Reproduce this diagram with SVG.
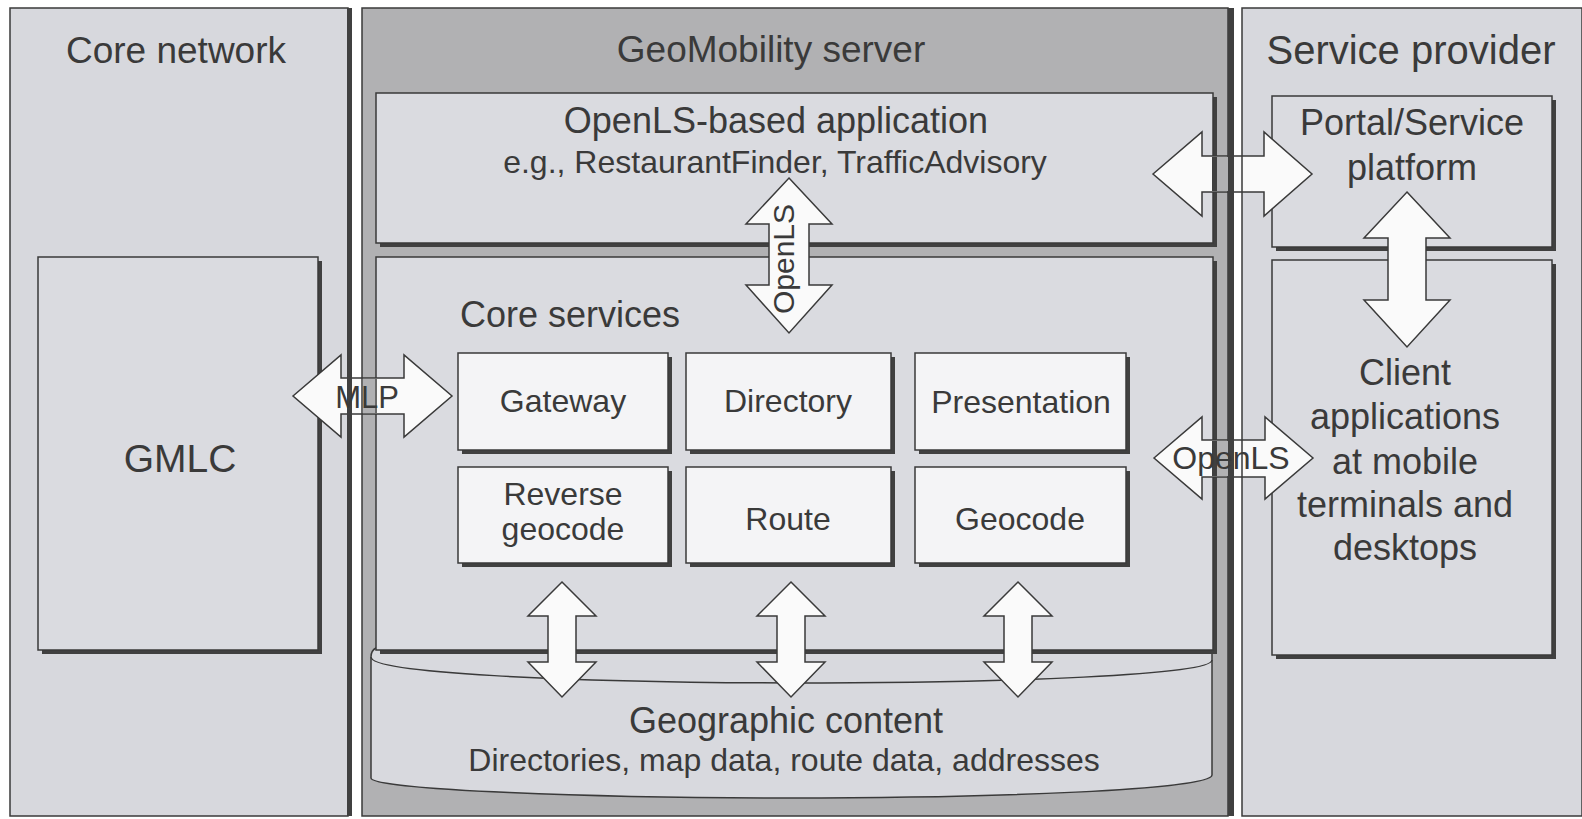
<svg xmlns="http://www.w3.org/2000/svg" width="1582" height="819" viewBox="0 0 1582 819">
<style>
.t{font-family:"Liberation Sans",Arial,sans-serif;fill:#3a3a3a}
.panel{fill:#d7d8dd}
.geo{fill:#b1b1b3}
.box{fill:#dadbe0;stroke:#3a3a3a;stroke-width:1.5}
.svc{fill:#f4f4f6;stroke:#3a3a3a;stroke-width:1.5}
.sh{fill:#404040}
.arr{fill:#fafafa;stroke:#3a3a3a;stroke-width:1.5;stroke-linejoin:miter}
.edge{fill:none;stroke:#3a3a3a;stroke-width:1.5}
.ln{stroke:#3a3a3a;stroke-width:1.5}
</style>
<rect x="0" y="0" width="1582" height="819" fill="#ffffff"/>

<g id="core-network">
  <rect class="panel" x="10" y="8" width="338" height="808"/>
  <text class="t" x="176" y="63" font-size="37" text-anchor="middle">Core network</text>
</g>
<g id="geomobility-server">
  <rect class="geo" x="362" y="8" width="866" height="808"/>
  <text class="t" x="771" y="62" font-size="37" text-anchor="middle">GeoMobility server</text>
</g>
<g id="service-provider">
  <rect class="panel" x="1242" y="8" width="340" height="808"/>
  <text class="t" x="1411" y="64" font-size="40" text-anchor="middle">Service provider</text>
</g>

<g id="gmlc">
  <rect class="sh" x="42" y="261" width="280" height="393"/>
  <rect class="box" x="38" y="257" width="280" height="393"/>
  <text class="t" x="180" y="472" font-size="39" text-anchor="middle">GMLC</text>
</g>

<g id="openls-application">
  <rect class="sh" x="380" y="97" width="837" height="150"/>
  <rect class="box" x="376" y="93" width="837" height="150"/>
  <text class="t" x="776" y="133" font-size="36" text-anchor="middle">OpenLS-based application</text>
  <text class="t" x="775" y="173" font-size="32" text-anchor="middle">e.g., RestaurantFinder, TrafficAdvisory</text>
</g>

<g id="geographic-content">
  <path d="M376,648 C372,650 371,653 371,657 L371,778 C371,790 600,798 790,798 C990,798 1212,790 1212,775 L1212,648 Z" fill="#d8d9de" stroke="#3a3a3a" stroke-width="1.5"/>
  <path class="edge" d="M371,657 C371,673 560,682 790,683 C1010,683 1212,675 1212,660"/>
  <text class="t" x="786" y="733" font-size="36" text-anchor="middle">Geographic content</text>
  <text class="t" x="784" y="771" font-size="32" text-anchor="middle">Directories, map data, route data, addresses</text>
</g>

<g id="core-services">
  <rect class="sh" x="380" y="261" width="837" height="393"/>
  <rect class="box" x="376" y="257" width="837" height="393"/>
  <text class="t" x="460" y="327" font-size="36">Core services</text>
</g>

<g id="gateway">
  <rect class="sh" x="462" y="357" width="210" height="97"/>
  <rect class="svc" x="458" y="353" width="210" height="97"/>
  <text class="t" x="563" y="412" font-size="32" text-anchor="middle">Gateway</text>
</g>
<g id="directory">
  <rect class="sh" x="690" y="357" width="205" height="97"/>
  <rect class="svc" x="686" y="353" width="205" height="97"/>
  <text class="t" x="788" y="412" font-size="32" text-anchor="middle">Directory</text>
</g>
<g id="presentation">
  <rect class="sh" x="919" y="357" width="211" height="97"/>
  <rect class="svc" x="915" y="353" width="211" height="97"/>
  <text class="t" x="1021" y="413" font-size="32" text-anchor="middle">Presentation</text>
</g>
<g id="reverse-geocode">
  <rect class="sh" x="462" y="471" width="210" height="96"/>
  <rect class="svc" x="458" y="467" width="210" height="96"/>
  <text class="t" x="563" y="505" font-size="32" text-anchor="middle">Reverse</text>
  <text class="t" x="563" y="540" font-size="32" text-anchor="middle">geocode</text>
</g>
<g id="route">
  <rect class="sh" x="690" y="471" width="205" height="96"/>
  <rect class="svc" x="686" y="467" width="205" height="96"/>
  <text class="t" x="788" y="530" font-size="32" text-anchor="middle">Route</text>
</g>
<g id="geocode">
  <rect class="sh" x="919" y="471" width="211" height="96"/>
  <rect class="svc" x="915" y="467" width="211" height="96"/>
  <text class="t" x="1020" y="530" font-size="32" text-anchor="middle">Geocode</text>
</g>

<g id="portal">
  <rect class="sh" x="1276" y="100" width="280" height="151"/>
  <rect class="box" x="1272" y="96" width="280" height="151"/>
  <text class="t" x="1412" y="135" font-size="36" text-anchor="middle">Portal/Service</text>
  <text class="t" x="1412" y="180" font-size="36" text-anchor="middle">platform</text>
</g>
<g id="client-applications">
  <rect class="sh" x="1276" y="264" width="280" height="395"/>
  <rect class="box" x="1272" y="260" width="280" height="395"/>
  <text class="t" x="1405" y="385" font-size="36" text-anchor="middle">Client</text>
  <text class="t" x="1405" y="429" font-size="36" text-anchor="middle">applications</text>
  <text class="t" x="1405" y="474" font-size="36" text-anchor="middle">at mobile</text>
  <text class="t" x="1405" y="517" font-size="36" text-anchor="middle">terminals and</text>
  <text class="t" x="1405" y="560" font-size="36" text-anchor="middle">desktops</text>
</g>

<g id="connectors">
  <polygon class="arr" points="293,396 341,355 341,378 404,378 404,355 452,396 404,437 404,414 341,414 341,437"/>
  <polygon class="arr" points="1153,174 1202,132 1202,156 1264,156 1264,132 1312,174 1264,216 1264,192 1202,192 1202,216"/>
  <polygon class="arr" points="1154,458 1202,417 1202,440 1265,440 1265,417 1313,458 1265,499 1265,477 1202,477 1202,499"/>
  <polygon class="arr" points="789,178 832,224 809,224 809,285 832,285 789,333 746,285 769,285 769,224 746,224"/>
  <polygon class="arr" points="1407,192 1450,238 1426,238 1426,300 1450,300 1407,347 1364,300 1388,300 1388,238 1364,238"/>
  <polygon class="arr" points="562,582 596,616 576,616 576,662 596,662 562,697 528,662 548,662 548,616 528,616"/>
  <polygon class="arr" points="791,582 825,616 805,616 805,662 825,662 791,697 757,662 777,662 777,616 757,616"/>
  <polygon class="arr" points="1018,582 1052,616 1032,616 1032,662 1052,662 1018,697 984,662 1004,662 1004,616 984,616"/>
</g>

<g id="panel-edges">
  <rect class="edge" x="10" y="8" width="338" height="808"/>
  <rect class="sh" x="347" y="8" width="5" height="808"/>
  <rect class="edge" x="362" y="8" width="866" height="808"/>
  <rect class="sh" x="1228" y="8" width="6" height="808"/>
  <rect class="edge" x="1242" y="8" width="340" height="808"/>
  <rect class="geo" x="363" y="379" width="12" height="34"/>
  <line class="ln" x1="376" y1="379" x2="376" y2="413"/>
  <rect class="sh" x="1212" y="157" width="5" height="34"/>
  <rect class="geo" x="1217" y="157" width="11" height="34"/>
  <rect class="sh" x="1212" y="441" width="5" height="35"/>
  <rect class="geo" x="1217" y="441" width="11" height="35"/>
</g>

<g id="connector-labels">
  <text class="t" x="367" y="408" font-size="31" text-anchor="middle">MLP</text>
  <text class="t" x="1231" y="469" font-size="32" text-anchor="middle">OpenLS</text>
  <text class="t" font-size="30" text-anchor="middle" transform="translate(794,259) rotate(-90)">OpenLS</text>
</g>
</svg>
